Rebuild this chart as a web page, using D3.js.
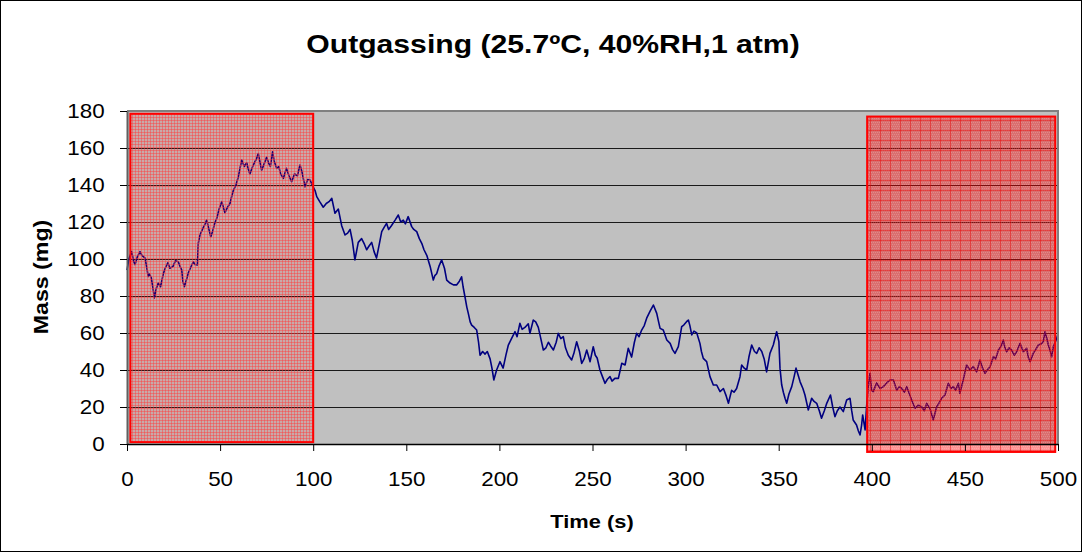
<!DOCTYPE html>
<html><head><meta charset="utf-8">
<script src="https://cdn.jsdelivr.net/npm/d3@7"></script>
<style>body{margin:0;background:#fff} text{font-family:"Liberation Sans",Arial,sans-serif}</style>
</head><body><svg id="c" width="1082" height="552"></svg>
<script>
const timeS = [0,1,2.5,3.5,4.3,5.5,7,8,9.7,10.5,11.4,12,13,14,14.7,15.7,16.8,18,19.5,20.5,22,23,24.7,26,27.5,28.5,29.4,30,30.8,32,32.9,34,35.6,36.5,37.8,38.3,39.2,40.5,41.5,42.8,44,45,46,47,48.2,49.5,50.9,52,52.6,54,55.3,56,57.1,58.5,59.8,60.7,61.6,63,64.3,65,66,67.5,68.7,69.5,70.5,71.5,72.3,73.5,75,76,77,78.2,79,80.4,81.5,82.5,84,85.6,87,88.4,90,91.5,92.9,94,95.6,97,98.3,99.5,101,101.9,103.5,105.4,107,108.5,110,111.7,113.5,115.3,117.1,118.5,119.8,121,122.4,124.2,126,127.5,128.7,130,131.4,132.7,134,135.5,136.8,138,139.4,140.5,142,144,145.7,147,148.4,149.5,151,152.9,154,155.6,157,158.3,159.5,161,162.8,164.5,165.3,166.3,167.5,169,170.5,171.7,173.5,175.3,177,178.5,179.7,180.5,181.5,182.5,183.3,184.3,185.1,186.5,187.8,188.8,189.6,191,192.3,193.5,195,196,197,198.5,200.3,202,203.5,204.8,206.5,208.4,209.5,211,212.2,213.7,215.5,216.4,218.2,219.5,220.9,222,223.6,225,226.3,227.5,229,230.5,231.6,233,234.3,235.5,237,238.8,240,241.5,243,244.2,245.5,246.9,248.7,250.4,251.5,252.5,254,255.5,256.7,258,259.4,260.5,262,263.9,265.7,267.5,269.2,271,272.5,273.7,275,276.4,277.8,279.1,281,282.7,284.5,285.5,286.3,288,289.9,291.7,293,294.3,296.1,297.9,299,300.5,301.5,302.3,303.3,304.5,306,307.7,308.5,309.5,311.3,313.1,314.9,316.7,318.5,320.3,321.8,323,324.7,326,327.4,329.2,330.1,331.5,332.8,334,335.5,337,338.2,339.5,340.9,342.2,343.5,345.3,347.1,348.9,350.1,350.7,351.6,352.5,353.4,354.3,355.5,357,358.2,359.3,360.5,361.5,363,364.1,365.9,367.7,369,370.4,371.8,373,374.5,375.8,377.8,379,380.2,381.5,382.9,384.7,386.5,388.3,389.2,390,391.8,392.8,393.7,394.5,395.1,396.4,397.2,398,399,399.9,400.8,401.8,402.6,404.5,406.2,408,409.8,411.6,413.4,414.8,416.1,417.5,418.8,420.2,421.4,423.2,425,426.8,428.2,429.5,431.3,433,434.8,436,437.5,439.3,441.1,442.5,443.8,445,446.5,447.3,449.1,450.9,452.7,454.5,456.3,458.1,459.5,460.8,462,463.5,465.3,466.5,468,469.5,470.6,471.5,472.4,473.8,475.1,476.5,477.8,479.6,481.4,483.2,484,485,486.7,488,489.4,490.8,492.1,493,494,494.8,495.6,496.6,497.5,498.5,499.3,500];
const massMg = [94,100,104,99,97,101,104,102,100.5,96,90.5,92,90,84,79,84,87,85,92,95,98,95,96,99,98.5,96,94,88,85,89,92.4,95,98.5,97,96.8,108.6,113,116,118,121,116,112,115,119,122,127,131,127,125,128,130,133,137,140,144.5,149,153.5,150,152,149,146,150,152.6,154,157,152,148,151,155,152,150,158,153,149,150,146,143.6,149,145,141.8,146,145,150.8,147,139,143,142.7,140,137,133.7,131,128,130,131,132.8,124.7,127,118,113,114,116,110,99.5,109,111,108,105,107,109,104,100.5,108,114.8,117,119.3,116,118,121,123.8,120,121,119,122.9,117.5,116,114.8,111,108.5,105,102,96,88.6,91,92,96,99.5,95,88.6,87,86,86,88,90.4,85,79.6,74,70.6,66,64.3,63,61.6,55,48,50,48.6,50,46,41,34.6,40,44.5,41,48,53.5,57,60.7,58,65.2,62,63,65,59.8,67,66,63,58,50.8,52,55,53,50.8,55,59.8,57,58,52,48,45.4,49,55.3,50,43.6,46,50.8,44.5,52.6,48,46.5,40,36,32.8,35,36.4,34,35.5,35.5,43.6,42.7,51.7,47,55,59.8,58,61.6,64,68,72,75.1,70.6,66,62.5,61.6,56.2,54.4,51,49,52.6,63.4,64.3,66.1,67,64,59,61,60,54.4,50,46.3,44.5,36.4,31.9,31.9,28.3,30,26,22,29,28,30,36.4,42.7,41,40,47,53.5,50,49,52,50,46,39,49,53.5,60.7,55.3,41,32,28,24.7,22,27,31,36,41,37,33.6,30,26.5,18.4,24.7,23,22,18,13.9,18,22,26.5,20,14.8,18,20,17.5,23.8,24.7,18,13,10.3,7,4.9,10,15.7,7.6,20.2,30,38.2,29,28.3,31,33,30,31,33,34.6,34.6,29,31,30,28,31,27,23.8,19.3,21,20,18,22,19,13,20,22,24.7,26.5,32.8,30,31,29,32.8,27.4,34.6,42.7,40,41.8,39,45.4,41,38.2,40,41.8,47.2,46,50.8,53,56.2,52,49.9,52,50.8,48,49.9,54.4,49.9,51.7,47,44.5,49,51,53.5,54,55.3,60.7,57,53.5,51,47.2,52.6,55,57.1,59.5];
const yTicks = [0,20,40,60,80,100,120,140,160,180];
const xTicks = [0,50,100,150,200,250,300,350,400,450,500];
const shadeStart = [1.8, 397.5];
const shadeEnd = [100, 498.5];
const shadeTop = [178.5, 177];
const shadeBottom = [1, -4.3];
const shadePattern = ["fine", "coarse"];
const titleText = "Outgassing (25.7ºC, 40%RH,1 atm)";
const xTitleText = "Time (s)";
const yTitleText = "Mass (mg)";

const svg = d3.select("#c");
const x = d3.scaleLinear().domain([0,500]).range([127,1058]);
const y = d3.scaleLinear().domain([0,180]).range([444,111]);
const SX = 1.12;

// patterns
const defs = svg.append("defs");
const p1 = defs.append("pattern").attr("id","fine").attr("patternUnits","userSpaceOnUse").attr("width",3).attr("height",3);
p1.append("rect").attr("width",3).attr("height",3).attr("fill","rgba(255,0,0,0.12)");
p1.append("rect").attr("width",3).attr("height",1).attr("fill","rgba(255,60,60,0.45)");
p1.append("rect").attr("width",1).attr("height",3).attr("fill","rgba(255,60,60,0.45)");
const p2 = defs.append("pattern").attr("id","coarse").attr("patternUnits","userSpaceOnUse").attr("width",10).attr("height",10);
p2.append("rect").attr("width",10).attr("height",10).attr("fill","rgba(255,0,0,0.42)");
for (let i=0;i<10;i+=2) for (let j=0;j<10;j+=2) {
  p2.append("rect").attr("x",i+((j/2)%2)).attr("y",j).attr("width",1).attr("height",1).attr("fill","rgba(255,255,255,0.18)");
}
p2.append("rect").attr("width",10).attr("height",1).attr("fill","rgba(230,0,0,0.45)");
p2.append("rect").attr("width",1).attr("height",10).attr("fill","rgba(230,0,0,0.45)");

// outer border
svg.append("rect").attr("x",0.5).attr("y",0.5).attr("width",1081).attr("height",551)
  .attr("fill","#fff").attr("stroke","#000").attr("stroke-width",1);

// plot area
svg.append("rect").attr("x",x(0)).attr("y",y(180)).attr("width",x(500)-x(0)).attr("height",y(0)-y(180))
  .attr("fill","#c0c0c0");

// gridlines
svg.append("g").selectAll("line").data(yTicks.filter(d=>d>0)).join("line")
  .attr("x1",x(0)).attr("x2",x(500)).attr("y1",d=>Math.round(y(d))+0.5).attr("y2",d=>Math.round(y(d))+0.5)
  .attr("stroke","#1a1a1a").attr("stroke-width",1);

// data line
const line = d3.line().x((d,i)=>x(timeS[i])).y((d,i)=>y(massMg[i]));
svg.append("path").datum(massMg).attr("d",line).attr("fill","none")
  .attr("stroke","#000080").attr("stroke-width",1.6).attr("stroke-linejoin","round");

// shaded regions
svg.append("g").selectAll("rect").data(shadeStart).join("rect")
  .attr("x",(d,i)=>x(shadeStart[i])).attr("y",(d,i)=>y(shadeTop[i]))
  .attr("width",(d,i)=>x(shadeEnd[i])-x(shadeStart[i]))
  .attr("height",(d,i)=>y(shadeBottom[i])-y(shadeTop[i]))
  .attr("fill",(d,i)=>`url(#${shadePattern[i]})`)
  .attr("stroke","#ff0000").attr("stroke-width",2);

// plot border top/right
svg.append("path").attr("d",`M${x(0)},${y(180)}H${x(500)}V${y(0)}`).attr("fill","none")
  .attr("stroke","#808080").attr("stroke-width",2);

// axes
const yAxis = svg.append("g").attr("transform",`translate(${x(0)},0)`)
  .call(d3.axisLeft(y).tickValues(yTicks).tickSize(7).tickSizeOuter(0).tickPadding(13));
const xAxis = svg.append("g").attr("transform",`translate(0,${y(0)})`)
  .call(d3.axisBottom(x).tickValues(xTicks).tickSize(7).tickSizeOuter(0).tickPadding(21));
[yAxis,xAxis].forEach(a=>{
  a.select(".domain").attr("stroke","#000").attr("stroke-width",1.3);
  a.selectAll(".tick line").attr("stroke","#000");
  a.selectAll(".tick text").attr("font-size",20).attr("fill","#000")
    .attr("font-family",'"Liberation Sans",Arial,sans-serif');
});
yAxis.select(".domain").attr("stroke","#606060").attr("stroke-width",2);
yAxis.selectAll(".tick text").attr("transform",`scale(${SX},1)`);
xAxis.selectAll(".tick text").attr("transform",`scale(${SX},1)`);

// titles
svg.append("text").attr("transform",`translate(553,53) scale(1.16,1)`).attr("text-anchor","middle")
  .attr("font-size",26).attr("font-weight","bold").text(titleText);
svg.append("text").attr("transform",`translate(592,528) scale(1.15,1)`).attr("text-anchor","middle")
  .attr("font-size",19).attr("font-weight","bold").text(xTitleText);
svg.append("text").attr("transform",`translate(48,277) rotate(-90) scale(1.22,1.1)`).attr("text-anchor","middle")
  .attr("font-size",19).attr("font-weight","bold").text(yTitleText);
</script></body></html>
